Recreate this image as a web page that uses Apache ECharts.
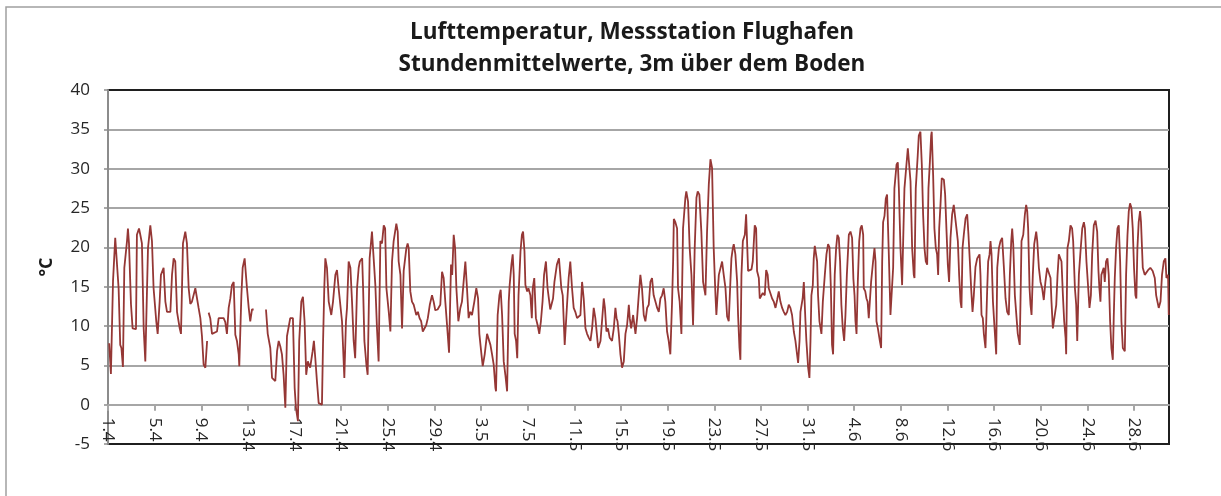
<!DOCTYPE html>
<html>
<head>
<meta charset="utf-8">
<title>Lufttemperatur Flughafen</title>
<script src="https://cdn.jsdelivr.net/npm/echarts@6/dist/echarts.min.js"></script>
<style>
html, body { margin: 0; padding: 0; background: #fff; }
#chart { width: 1221px; height: 496px; }
</style>
</head>
<body>
<div id="chart"></div>
<script>
// Stundenmittel, Zeit = Tage seit 1.4. 00:00, Wert in °C (null = Messluecke)
var aprilTemps = [
	[0.10, 7.8], [0.25, 3.9], [0.43, 15.7], [0.62, 21.2], [0.77, 21.4], [0.91, 14.8], [1.05, 7.6], [1.15, 7.2], [1.28, 4.8],
	[1.40, 17.4], [1.63, 20.8], [1.71, 22.4], [1.80, 20.5], [1.97, 12.8], [2.11, 9.7], [2.22, 9.9], [2.40, 9.6],
	[2.48, 21.6], [2.66, 22.4], [2.77, 21.6], [2.91, 20.5], [3.06, 9.7], [3.20, 5.5], [3.34, 5.5],
	[3.43, 19.9], [3.63, 22.8], [3.77, 20.8], [3.91, 14.8], [4.14, 10.6], [4.26, 9.0], [4.43, 13.1], [4.54, 16.5],
	[4.77, 17.4], [4.92, 13.1], [5.06, 11.8], [5.35, 11.8], [5.49, 16.5], [5.63, 18.6], [5.77, 18.2], [5.92, 11.8],
	[6.15, 9.7], [6.26, 9.0], [6.43, 20.5], [6.63, 22.0], [6.77, 20.5], [6.92, 14.8], [7.06, 12.8], [7.20, 13.1],
	[7.49, 14.8], [7.63, 15.0], [7.77, 12.3], [7.92, 11.0], [8.06, 8.7], [8.20, 5.1], [8.35, 4.7], [8.50, 8.1], [8.56, null],
	[8.63, 11.7], [8.77, 11.0], [8.92, 9.0], [9.06, 9.2], [9.35, 9.3], [9.49, 11.0], [9.63, 11.2], [9.92, 11.0],
	[10.06, 10.5], [10.20, 9.0], [10.35, 12.3], [10.49, 13.5], [10.63, 15.2], [10.78, 15.6], [10.92, 8.9], [11.06, 8.1],
	[11.21, 6.4], [11.26, 4.9], [11.44, 13.9], [11.55, 17.4], [11.72, 18.6], [11.83, 16.5], [11.92, 14.8], [12.07, 12.3],
	[12.20, 10.6], [12.35, 12.1], [12.49, 12.1], [12.55, null],
	[13.55, 12.1], [13.70, 9.0], [13.92, 7.2], [14.07, 3.4], [14.35, 3.0], [14.50, 6.8], [14.64, 8.1], [14.78, 7.4],
	[14.92, 6.4], [15.06, 3.8], [15.21, -0.4], [15.35, 8.7], [15.63, 11.0], [15.86, 11.0], [16.01, 2.1], [16.12, -0.4],
	[16.29, -2.1], [16.40, 8.1], [16.58, 13.1], [16.72, 13.7], [16.86, 10.6], [17.00, 3.8], [17.14, 5.5], [17.34, 4.7],
	[17.55, 6.8], [17.66, 8.1], [17.78, 5.9], [17.92, 3.0], [18.07, 0.2], [18.35, 0.0], [18.44, 7.6], [18.55, 14.8],
	[18.64, 18.6], [18.78, 17.4], [18.93, 13.1], [19.15, 11.4], [19.30, 13.1], [19.50, 16.5], [19.64, 17.1], [19.78, 14.8],
	[20.07, 10.6], [20.27, 3.4], [20.41, 10.6], [20.50, 12.3], [20.64, 18.2], [20.79, 17.4], [20.93, 13.1], [21.07, 8.1],
	[21.20, 5.9], [21.36, 14.8], [21.50, 17.4], [21.60, 18.2], [21.80, 18.6], [21.88, 14.8], [21.99, 8.1], [22.16, 5.1],
	[22.27, 3.8], [22.44, 18.6], [22.64, 22.0], [22.78, 21.8], [22.93, 15.2], [23.07, 9.7], [23.21, 5.5], [23.36, 20.8],
	[23.50, 20.5], [23.65, 22.8], [23.77, 22.4], [23.88, 14.8], [24.08, 11.8], [24.22, 9.3], [24.36, 18.2], [24.50, 20.8],
	[24.73, 23.0], [24.85, 22.0], [24.93, 18.2], [25.08, 16.5], [25.22, 9.7], [25.36, 17.0], [25.59, 19.9], [25.70, 20.5],
	[25.79, 19.9], [25.93, 14.4], [26.07, 13.1], [26.22, 12.7], [26.36, 12.9], [26.44, 11.4], [26.58, 11.8], [26.72, 11.0],
	[26.86, 10.6], [27.00, 9.3], [27.14, 9.3], [27.29, 10.1], [27.43, 11.0], [27.60, 12.7], [27.79, 13.9], [27.93, 13.1],
	[28.07, 12.0], [28.27, 12.1], [28.50, 12.7], [28.65, 16.9], [28.79, 16.1], [28.93, 13.1], [29.08, 10.1], [29.25, 6.6],
	[29.42, 17.8], [29.52, 16.5], [29.65, 21.6], [29.77, 19.9], [29.88, 14.8]
];

var mayTemps = [
	[30.05, 10.6], [30.22, 12.3], [30.36, 13.1], [30.50, 15.6], [30.65, 18.2], [30.79, 14.8], [30.93, 11.0], [31.07, 11.8],
	[31.22, 11.4], [31.42, 13.1], [31.59, 14.8], [31.74, 13.5], [31.85, 9.0], [32.03, 6.4], [32.14, 4.9], [32.31, 6.4],
	[32.51, 9.0], [32.65, 9.2], [32.80, 7.6], [32.94, 6.4], [33.08, 5.1], [33.23, 2.1], [33.28, 1.7], [33.42, 11.4],
	[33.57, 13.9], [33.68, 14.6], [33.80, 11.4], [33.94, 5.5], [34.08, 3.8], [34.23, 1.7], [34.37, 13.1], [34.45, 15.2],
	[34.60, 17.8], [34.71, 19.1], [34.80, 16.5], [34.88, 9.0], [35.00, 8.1], [35.10, 5.9], [35.21, 13.9], [35.38, 19.5],
	[35.50, 21.6], [35.60, 22.0], [35.72, 19.5], [35.80, 15.2], [35.95, 14.4], [36.06, 14.8], [36.23, 13.9], [36.35, 11.0],
	[36.43, 14.8], [36.56, 16.1], [36.70, 11.0], [36.85, 10.1], [36.99, 9.0], [37.13, 10.6], [37.27, 13.1], [37.40, 16.5],
	[37.56, 18.2], [37.70, 14.8], [37.93, 12.1], [38.17, 13.5], [38.29, 15.6], [38.50, 17.8], [38.68, 18.6], [38.88, 14.8],
	[39.00, 13.9], [39.17, 7.6], [39.37, 12.7], [39.51, 16.1], [39.65, 18.2], [39.80, 14.8], [39.94, 12.3], [40.08, 11.8],
	[40.23, 11.0], [40.52, 11.4], [40.66, 15.6], [40.80, 13.5], [40.95, 9.7], [41.09, 9.0], [41.24, 8.5], [41.38, 8.1],
	[41.52, 9.7], [41.66, 12.3], [41.80, 11.0], [42.04, 7.2], [42.24, 8.1], [42.52, 13.5], [42.62, 12.3], [42.75, 9.3],
	[42.88, 9.7], [43.03, 8.5], [43.23, 8.1], [43.38, 9.7], [43.52, 12.3], [43.62, 11.0], [43.70, 10.6], [43.81, 9.0],
	[43.95, 6.4], [44.09, 4.7], [44.24, 5.5], [44.38, 9.0], [44.52, 10.1], [44.67, 12.7], [44.75, 11.0], [44.87, 9.7],
	[45.04, 11.4], [45.24, 9.0], [45.38, 11.0], [45.52, 13.9], [45.66, 16.5], [45.80, 14.8], [45.95, 11.4], [46.09, 10.6],
	[46.24, 12.3], [46.38, 12.7], [46.52, 15.6], [46.66, 16.1], [46.80, 13.9], [46.95, 13.1], [47.10, 12.3], [47.24, 11.8],
	[47.38, 13.5], [47.52, 13.9], [47.66, 14.8], [47.80, 13.1], [47.95, 9.3], [48.09, 8.1], [48.23, 6.4], [48.38, 13.1],
	[48.47, 18.2], [48.53, 23.6], [48.66, 23.2], [48.81, 22.4], [48.89, 14.8], [49.03, 13.1], [49.18, 9.0], [49.32, 22.4],
	[49.52, 26.3], [49.60, 27.1], [49.75, 25.8], [49.89, 19.9], [50.04, 16.5], [50.18, 10.1], [50.32, 19.9], [50.47, 26.3],
	[50.58, 27.1], [50.72, 26.7], [50.89, 22.0], [51.04, 15.6], [51.24, 13.9], [51.38, 22.0], [51.53, 28.0], [51.67, 31.2],
	[51.81, 30.1], [51.95, 19.9], [52.10, 13.9], [52.18, 11.4], [52.28, 13.9], [52.39, 16.5], [52.52, 16.5], [52.67, 18.2],
	[52.81, 16.5], [52.96, 14.8], [53.10, 11.2], [53.24, 10.6], [53.38, 15.6], [53.47, 18.6], [53.59, 19.9], [53.67, 20.4],
	[53.81, 19.1], [53.96, 15.6], [54.04, 11.4], [54.16, 7.2], [54.24, 5.7], [54.33, 16.5], [54.45, 20.8], [54.62, 21.6],
	[54.73, 24.2], [54.82, 24.4], [54.90, 17.0], [55.01, 17.2], [55.19, 17.2], [55.30, 18.2], [55.47, 22.8], [55.59, 22.4],
	[55.67, 17.0], [55.82, 16.1], [55.90, 13.5], [56.04, 13.5], [56.16, 14.2], [56.33, 13.9], [56.45, 17.1], [56.58, 16.5],
	[56.67, 14.8], [56.82, 15.0], [56.96, 13.5], [57.10, 13.1], [57.25, 12.3], [57.39, 13.3], [57.53, 14.4], [57.67, 13.1],
	[57.82, 12.3], [57.96, 11.8], [58.10, 11.4], [58.25, 11.8], [58.39, 12.7], [58.53, 12.3], [58.67, 11.4], [58.82, 9.3],
	[58.96, 8.1], [59.10, 6.4], [59.19, 5.3], [59.31, 8.1], [59.39, 11.8], [59.48, 11.8], [59.58, 13.5], [59.68, 15.6],
	[59.76, 15.6], [59.82, 10.6], [59.90, 8.1], [60.05, 4.7], [60.16, 3.4], [60.25, 8.1], [60.33, 13.9], [60.45, 15.2],
	[60.53, 18.6], [60.62, 20.2], [60.73, 20.0], [60.82, 18.2], [60.90, 13.9]
];

var juneTemps = [
	[61.02, 10.6], [61.19, 9.0], [61.31, 13.1], [61.48, 16.5], [61.62, 19.1], [61.76, 20.4], [61.88, 20.0], [62.00, 14.8],
	[62.10, 7.6], [62.19, 6.4], [62.33, 16.5], [62.45, 19.9], [62.56, 21.6], [62.68, 21.2], [62.79, 18.2], [62.90, 12.7],
	[63.02, 9.7], [63.14, 8.1], [63.25, 11.4], [63.37, 16.5], [63.54, 21.6], [63.68, 22.0], [63.82, 21.2], [63.93, 16.0],
	[64.03, 13.9], [64.11, 10.6], [64.20, 9.0], [64.31, 15.6], [64.43, 20.8], [64.54, 22.4], [64.65, 22.8], [64.77, 21.6],
	[64.82, 14.8], [64.95, 14.4], [65.05, 13.5], [65.15, 13.1], [65.25, 11.0], [65.34, 11.0], [65.45, 15.6], [65.62, 18.2],
	[65.74, 19.9], [65.83, 18.2], [65.91, 10.6], [66.03, 9.7], [66.20, 8.1], [66.31, 7.2], [66.40, 18.2], [66.48, 23.2],
	[66.60, 24.0], [66.71, 26.2], [66.82, 26.7], [66.97, 19.1], [67.11, 11.4], [67.25, 11.2], [67.34, 17.4], [67.45, 27.5],
	[67.63, 30.5], [67.74, 30.8], [67.83, 27.5], [67.97, 19.9], [68.11, 15.2], [68.20, 15.2], [68.31, 27.5], [68.48, 30.5],
	[68.60, 32.6], [68.71, 32.8], [68.83, 28.4], [68.97, 19.9], [69.11, 16.5], [69.17, 16.1], [69.28, 27.5], [69.45, 31.7],
	[69.54, 34.2], [69.68, 34.7], [69.80, 30.5], [69.91, 24.2], [70.03, 19.9], [70.14, 18.2], [70.26, 17.8], [70.37, 27.5],
	[70.49, 30.8], [70.60, 34.2], [70.65, 34.7], [70.77, 29.2], [70.88, 22.4], [71.00, 19.9], [71.11, 19.1], [71.20, 16.5],
	[71.29, 22.4], [71.40, 25.4], [71.51, 28.8], [71.69, 28.6], [71.80, 26.7], [71.92, 22.0], [72.03, 17.8], [72.14, 15.6],
	[72.26, 21.2], [72.40, 24.2], [72.54, 25.4], [72.69, 25.4], [72.77, 22.4], [72.89, 20.8], [73.00, 16.5], [73.12, 13.1],
	[73.20, 12.3], [73.29, 19.9], [73.40, 21.6], [73.55, 23.7], [73.69, 24.2], [73.80, 21.6], [73.92, 18.2], [74.03, 14.8],
	[74.15, 11.8], [74.26, 13.9], [74.40, 17.5], [74.55, 18.6], [74.75, 19.1], [74.83, 16.5], [74.92, 11.4], [75.03, 11.0],
	[75.12, 9.0], [75.26, 7.2], [75.41, 14.8], [75.49, 18.2], [75.61, 19.1], [75.69, 20.8], [75.78, 19.1], [75.90, 13.1],
	[76.04, 9.7], [76.18, 6.4], [76.27, 17.4], [76.41, 19.9], [76.55, 20.8], [76.69, 21.2], [76.84, 17.4], [76.98, 13.5],
	[77.12, 11.8], [77.26, 11.4], [77.35, 16.5], [77.47, 20.8], [77.55, 22.4], [77.64, 20.4], [77.78, 13.9], [77.90, 13.9],
	[78.03, 9.0], [78.20, 7.6], [78.35, 20.8], [78.50, 21.6], [78.64, 24.2], [78.75, 25.4], [78.84, 24.6], [78.92, 22.4],
	[79.04, 14.8], [79.12, 12.7], [79.21, 11.4], [79.32, 16.5], [79.44, 20.4], [79.61, 22.0], [79.70, 20.8], [79.84, 17.4],
	[79.98, 15.6], [80.12, 14.8], [80.26, 13.3], [80.40, 15.6], [80.55, 17.4], [80.69, 17.2], [80.84, 16.1], [80.92, 13.1],
	[81.04, 9.7], [81.21, 9.5], [81.33, 12.7], [81.44, 16.5], [81.55, 19.1], [81.66, 19.0], [81.78, 18.2], [81.90, 13.9],
	[82.01, 10.6], [82.13, 8.5], [82.18, 6.4], [82.29, 19.9], [82.41, 20.8], [82.55, 22.8], [82.69, 22.4], [82.78, 20.8],
	[82.93, 14.8], [83.04, 12.7], [83.13, 8.1], [83.27, 16.5], [83.41, 19.5], [83.56, 22.4], [83.70, 23.2], [83.79, 22.4],
	[83.92, 18.2], [84.07, 14.8], [84.18, 12.3], [84.30, 13.9], [84.41, 19.1], [84.55, 22.8], [84.70, 23.4], [84.84, 22.0],
	[84.95, 17.0], [85.03, 14.8], [85.12, 13.1], [85.20, 16.5], [85.32, 16.5], [85.40, 17.4], [85.49, 15.6], [85.60, 18.2],
	[85.72, 18.6], [85.83, 16.5], [85.95, 10.6], [86.06, 7.2], [86.18, 5.7], [86.26, 11.0], [86.35, 16.1], [86.46, 19.9],
	[86.58, 22.4], [86.69, 22.8], [86.81, 18.2], [86.92, 10.6], [87.04, 7.2], [87.21, 6.8], [87.32, 16.5], [87.44, 21.6],
	[87.55, 24.6], [87.66, 25.6], [87.78, 25.0], [87.89, 22.4], [88.00, 17.4], [88.12, 13.9], [88.20, 13.5], [88.29, 19.9],
	[88.40, 23.2], [88.52, 24.6], [88.60, 23.2], [88.75, 17.4], [88.92, 16.5], [89.04, 16.3], [89.20, 17.1], [89.40, 17.4],
	[89.60, 17.0], [89.78, 16.1], [89.90, 13.9], [89.98, 13.3], [90.12, 12.3], [90.27, 13.1], [90.40, 16.5], [90.55, 18.2],
	[90.69, 18.6], [90.78, 16.1], [90.92, 16.5], [90.98, 11.4]
];

// Beschriftung alle 4 Tage
var tickLabels = ['1.4', '5.4', '9.4', '13.4', '17.4', '21.4', '25.4', '29.4', '3.5', '7.5', '11.5', '15.5',
	'19.5', '23.5', '27.5', '31.5', '4.6', '8.6', '12.6', '16.6', '20.6', '24.6', '28.6'];

var titleLines = ['Lufttemperatur, Messstation Flughafen', 'Stundenmittelwerte, 3m über dem Boden'];

var yMin = -5, yMax = 40, yStep = 5;
var gridTop = 90, gridBottom = 52, chartHeight = 496;

var chart = echarts.init(document.getElementById('chart'));
var allTemps = aprilTemps.concat(mayTemps, juneTemps);

// Gitterlinien grau, oberer und unterer Rand dunkel
var splitColors = [];
for (var v = yMin; v <= yMax; v += yStep) {
	splitColors.push(v === yMin || v === yMax ? '#1f1f1f' : '#a6a6a6');
}
// x-Achse liegt bei 0 Grad
var zeroOffset = -(0 - yMin) / (yMax - yMin) * (chartHeight - gridTop - gridBottom);

var option = {
	animation: false,
	backgroundColor: '#fff',
	textStyle: { fontFamily: 'Open Sans' },
	title: {
		text: titleLines.join('\n'),
		left: 627,
		top: 12,
		textAlign: 'center',
		textStyle: { fontFamily: 'Open Sans', fontWeight: 'bold', fontSize: 22.5, lineHeight: 32, color: '#1a1a1a' }
	},
	graphic: [{
		type: 'rect',
		shape: { x: 6, y: 7, width: 1240, height: 520 },
		style: { fill: 'none', stroke: '#a0a0a0', lineWidth: 1.5 },
		silent: true
	}],
	grid: {
		left: 108, right: 52, top: gridTop, bottom: gridBottom,
		show: true, borderColor: '#1f1f1f', borderWidth: 2, backgroundColor: 'transparent'
	},
	xAxis: {
		type: 'value',
		min: 0, max: 91, interval: 4,
		offset: zeroOffset,
		axisLine: { onZero: false, lineStyle: { color: '#a6a6a6', width: 2 } },
		axisTick: { show: true, length: 6, lineStyle: { color: '#a6a6a6', width: 2 } },
		splitLine: { show: false },
		axisLabel: {
			rotate: -90, margin: 13, fontSize: 17, color: '#262626',
			showMaxLabel: false,
			formatter: function (v) {
				if (v % 4 !== 0) return '';
				return tickLabels[v / 4] || '';
			}
		}
	},
	yAxis: {
		type: 'value',
		min: yMin, max: yMax, interval: yStep,
		name: '°C', nameLocation: 'middle', nameGap: 52, nameRotate: 90,
		nameTextStyle: { fontSize: 18, fontWeight: 'bold', color: '#1a1a1a' },
		axisLine: { show: true, onZero: false, lineStyle: { color: '#8c8c8c', width: 2 } },
		axisTick: { show: true, length: 4, lineStyle: { color: '#8c8c8c', width: 1.5 } },
		splitLine: { show: true, lineStyle: { color: splitColors, width: 2 } },
		axisLabel: { fontSize: 17, color: '#262626', margin: 18 }
	},
	series: [{
		name: 'Lufttemperatur',
		type: 'line',
		data: allTemps,
		showSymbol: false,
		symbol: 'none',
		connectNulls: false,
		lineStyle: { color: '#953735', width: 1.8 },
		z: 3
	}]
};

chart.setOption(option);
</script>
</body>
</html>
